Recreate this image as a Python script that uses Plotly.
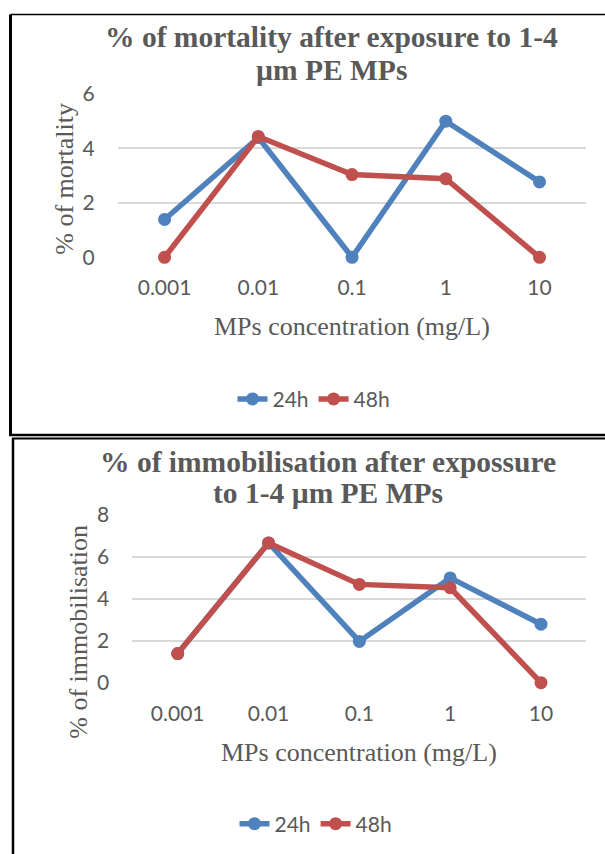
import plotly.graph_objects as go

# ---- data ----
concentrations = ["0.001", "0.01", "0.1", "1", "10"]
mortality_24h = [1.39, 4.40, 0.0, 5.00, 2.77]
mortality_48h = [0.0, 4.44, 3.04, 2.89, 0.0]
immobil_24h = [1.39, 6.67, 1.97, 5.00, 2.79]
immobil_48h = [1.39, 6.67, 4.69, 4.53, 0.0]
mort_ticks = [0, 2, 4, 6]
immo_ticks = [0, 2, 4, 6, 8]

W, H = 605, 854
BLUE = "#4F81BD"
RED = "#C0504D"
GREY = "#595959"
GRID = "#D9D9D9"
SERIF = "Liberation Serif"
SANS = "Lato"


def fx(x):
    return x / W


def fy(y):
    return 1 - y / H


fig = go.Figure()

line_w = 5.5
mk = 13

fig.add_trace(go.Scatter(x=concentrations, y=mortality_24h, name="24h", mode="lines+markers",
                         line=dict(color=BLUE, width=line_w), marker=dict(size=mk, color=BLUE),
                         xaxis="x", yaxis="y", legend="legend", cliponaxis=False))
fig.add_trace(go.Scatter(x=concentrations, y=mortality_48h, name="48h", mode="lines+markers",
                         line=dict(color=RED, width=line_w), marker=dict(size=mk, color=RED),
                         xaxis="x", yaxis="y", legend="legend", cliponaxis=False))
fig.add_trace(go.Scatter(x=concentrations, y=immobil_24h, name="24h", mode="lines+markers",
                         line=dict(color=BLUE, width=line_w), marker=dict(size=mk, color=BLUE),
                         xaxis="x2", yaxis="y2", legend="legend2", cliponaxis=False))
fig.add_trace(go.Scatter(x=concentrations, y=immobil_48h, name="48h", mode="lines+markers",
                         line=dict(color=RED, width=line_w), marker=dict(size=mk, color=RED),
                         xaxis="x2", yaxis="y2", legend="legend2", cliponaxis=False))

tickfont = dict(family=SANS, size=21, color=GREY)

xcommon = dict(type="category", range=[-0.5, 4.5], showgrid=False, zeroline=False,
               showline=False, ticks="", tickfont=tickfont, ticklabelstandoff=16,
               fixedrange=True, automargin=False)
ycommon = dict(showgrid=True, gridcolor=GRID, gridwidth=1.8, zeroline=False, showline=False,
               ticks="", tickfont=tickfont, ticklabelstandoff=22, fixedrange=True,
               automargin=False)

fig.update_layout(
    template="none",
    width=W, height=H,
    margin=dict(l=0, r=0, t=0, b=0, pad=0, autoexpand=False),
    paper_bgcolor="white", plot_bgcolor="white",
    xaxis=dict(domain=[fx(117.7), fx(586.4)], anchor="y", **xcommon),
    yaxis=dict(domain=[fy(257.3), fy(94)], anchor="x", range=[0, 6],
               tickvals=mort_ticks, **ycommon),
    xaxis2=dict(domain=[fx(132.3), fx(586.4)], anchor="y2", **xcommon),
    yaxis2=dict(domain=[fy(682.7), fy(515)], anchor="x2", range=[0, 8],
                tickvals=immo_ticks, **ycommon),
    legend=dict(orientation="h", x=fx(314), y=fy(399.3), xanchor="center", yanchor="middle",
                font=dict(family=SANS, size=21, color=GREY), bgcolor="rgba(0,0,0,0)"),
    legend2=dict(orientation="h", x=fx(316), y=fy(824), xanchor="center", yanchor="middle",
                 font=dict(family=SANS, size=21, color=GREY), bgcolor="rgba(0,0,0,0)"),
    showlegend=True,
)

ann = []


def text(x, y, s, size, bold=False, angle=0):
    ann.append(dict(x=fx(x), y=fy(y), xref="paper", yref="paper", text=("<b>%s</b>" % s) if bold else s,
                    showarrow=False, xanchor="center", yanchor="middle", textangle=angle,
                    font=dict(family=SERIF, size=size, color=GREY)))


# titles
text(331, 37, "% of mortality after exposure to 1-4", 29.5, bold=True)
text(331, 70, "µm PE MPs", 29.5, bold=True)
text(327.5, 462, "% of immobilisation after expossure", 29.5, bold=True)
text(327.5, 493, "to 1-4 µm PE MPs", 29.5, bold=True)
# axis titles
text(352, 326.7, "MPs concentration (mg/L)", 26)
text(359.4, 752.7, "MPs concentration (mg/L)", 26)
text(63.7, 179, "% of mortality", 26, angle=-90)
text(79, 631.7, "% of immobilisation", 26, angle=-90)

fig.update_layout(annotations=ann)

# chart frames
shapes = [
    dict(type="line", x0=fx(10.5), x1=fx(640), y0=fy(14.5), y1=fy(14.5), line=dict(color="black", width=1.5)),
    dict(type="line", x0=fx(10.5), x1=fx(10.5), y0=fy(14.5), y1=fy(435), line=dict(color="black", width=3)),
    dict(type="line", x0=fx(9), x1=fx(640), y0=fy(435), y1=fy(435), line=dict(color="black", width=2.5)),
    dict(type="line", x0=fx(12), x1=fx(640), y0=fy(438.5), y1=fy(438.5), line=dict(color="black", width=2)),
    dict(type="line", x0=fx(13), x1=fx(13), y0=fy(438), y1=fy(900), line=dict(color="black", width=2.5)),
]
for s in shapes:
    s.update(xref="paper", yref="paper", layer="above")
fig.update_layout(shapes=shapes)

fig.write_html("out.html")
